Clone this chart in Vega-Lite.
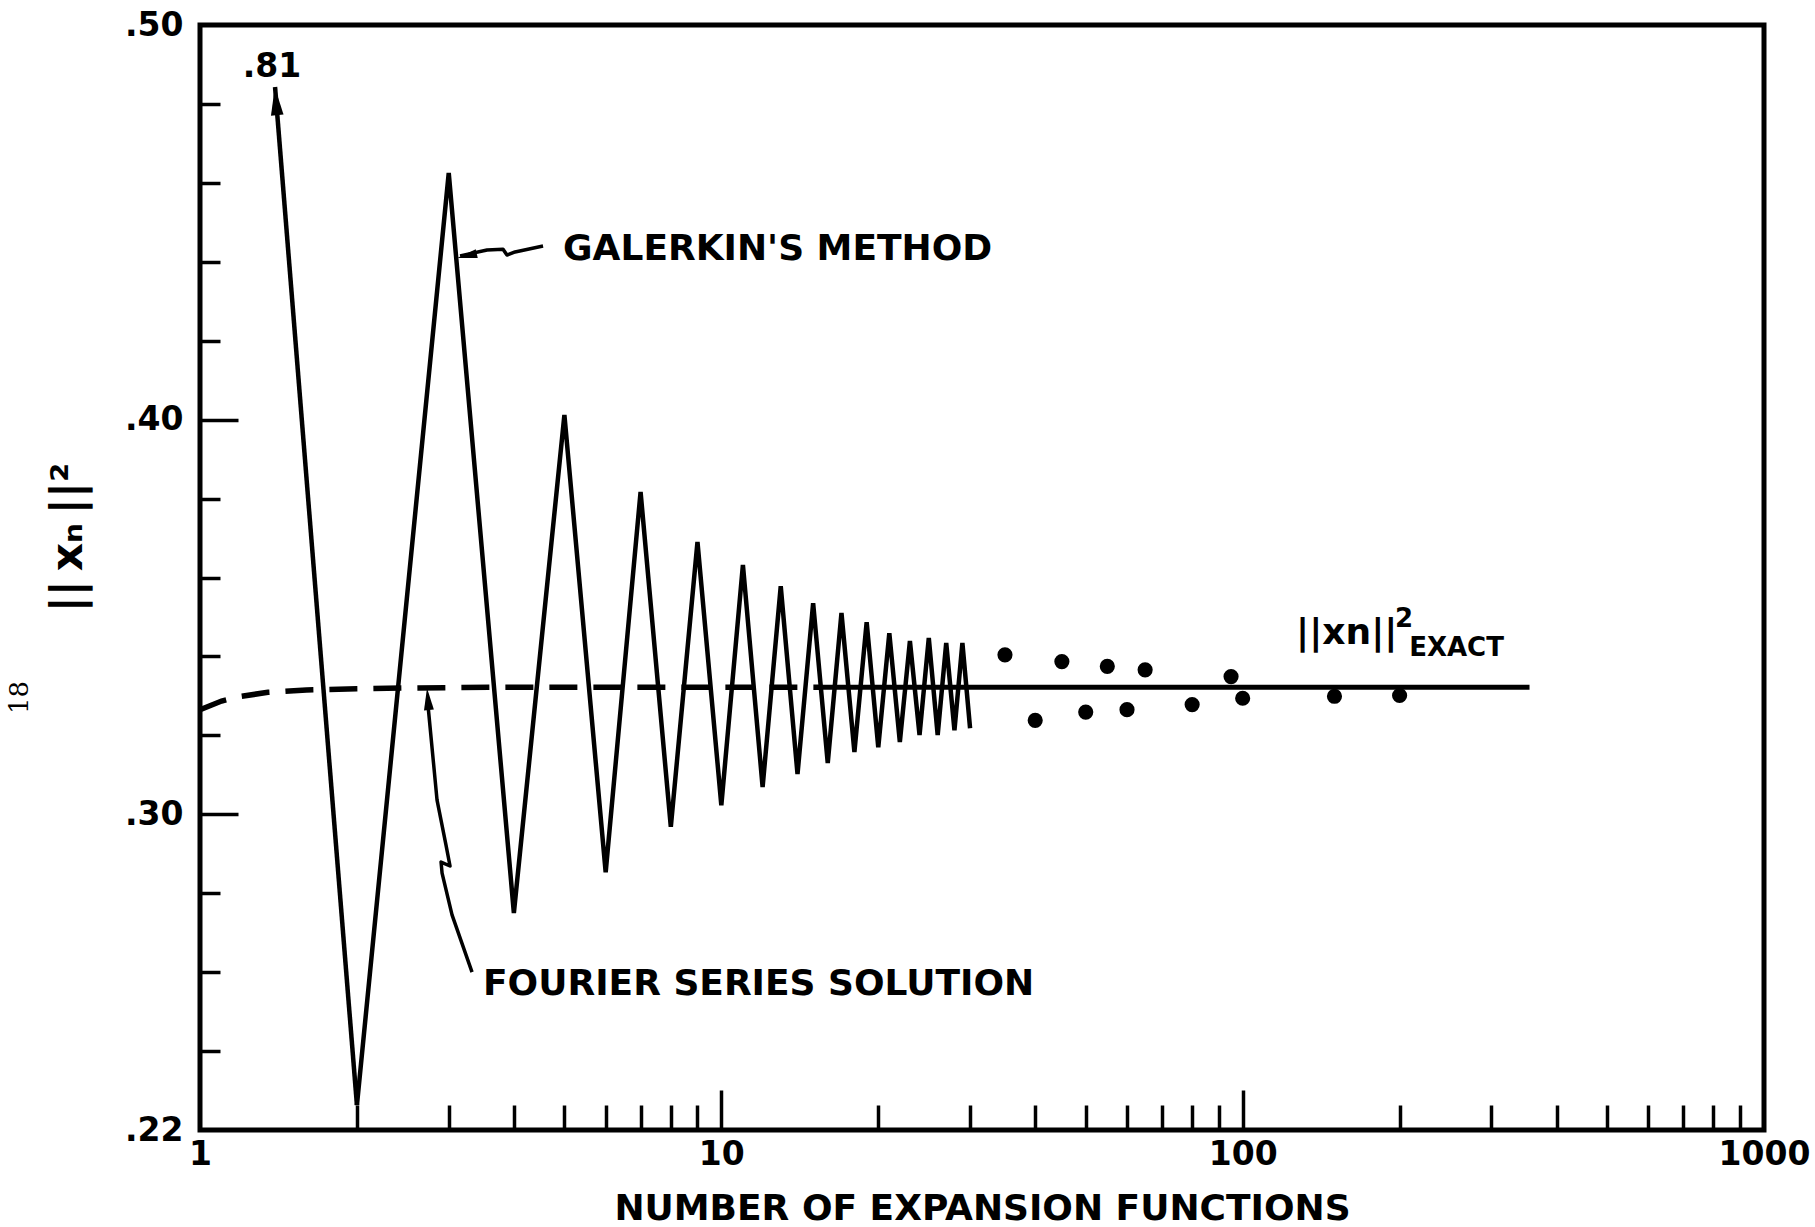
{
  "$schema": "https://vega.github.io/schema/vega-lite/v6.json",
  "width": 1564,
  "height": 1105,
  "autosize": {"type": "none"},
  "padding": {"left": 200, "top": 25, "right": 51, "bottom": 97},
  "background": "white",
  "config": {"view": {"stroke": "black", "strokeWidth": 5}, "font": "DejaVu Sans"},
  "title": {"text": "18", "orient": "left", "anchor": "middle", "font": "DejaVu Serif", "fontSize": 26, "fontWeight": "normal", "color": "black", "offset": 14, "dx": -120},
  "datasets": {
    "galerkin": [
      {"n": 1, "v": 0.81}, {"n": 2, "v": 0.2263}, {"n": 3, "v": 0.4625}, {"n": 4, "v": 0.275},
      {"n": 5, "v": 0.4012}, {"n": 6, "v": 0.2853}, {"n": 7, "v": 0.3817}, {"n": 8, "v": 0.2968},
      {"n": 9, "v": 0.369}, {"n": 10, "v": 0.3023}, {"n": 11, "v": 0.3632}, {"n": 12, "v": 0.3069},
      {"n": 13, "v": 0.3578}, {"n": 14, "v": 0.3102}, {"n": 15, "v": 0.3535}, {"n": 16, "v": 0.313},
      {"n": 17, "v": 0.351}, {"n": 18, "v": 0.3158}, {"n": 19, "v": 0.3487}, {"n": 20, "v": 0.317},
      {"n": 21, "v": 0.3459}, {"n": 22, "v": 0.3183}, {"n": 23, "v": 0.3439}, {"n": 24, "v": 0.3201},
      {"n": 25, "v": 0.3447}, {"n": 26, "v": 0.3201}, {"n": 27, "v": 0.3434}, {"n": 28, "v": 0.3213},
      {"n": 29, "v": 0.3434}, {"n": 30, "v": 0.3218}
    ],
    "dots": [
      {"n": 35, "v": 0.3404}, {"n": 40, "v": 0.3238}, {"n": 45, "v": 0.3387}, {"n": 50, "v": 0.3259},
      {"n": 55, "v": 0.3375}, {"n": 60, "v": 0.3265}, {"n": 65, "v": 0.3366}, {"n": 80, "v": 0.3278},
      {"n": 95, "v": 0.3349}, {"n": 100, "v": 0.3294}, {"n": 150, "v": 0.3299}, {"n": 200, "v": 0.3301}
    ],
    "fourier": [
      {"n": 1, "v": 0.3265}, {"n": 1.1, "v": 0.3287}, {"n": 1.2, "v": 0.3299}, {"n": 1.35, "v": 0.3309},
      {"n": 1.6, "v": 0.3315}, {"n": 2, "v": 0.3318}, {"n": 2.5, "v": 0.332}, {"n": 3, "v": 0.3321},
      {"n": 4, "v": 0.3322}, {"n": 15.4, "v": 0.3322}
    ],
    "exact": [{"n": 15.4, "v": 0.3322}, {"n": 355, "v": 0.3322}],
    "leaders": [
      {"key": "a81", "i": 0, "n": 2, "v": 0.2263}, {"key": "a81", "i": 1, "n": 1.393, "v": 0.4843},
      {"key": "lg", "i": 0, "n": 3.154, "v": 0.4415}, {"key": "lg", "i": 1, "n": 3.553, "v": 0.443},
      {"key": "lg", "i": 2, "n": 3.813, "v": 0.4432}, {"key": "lg", "i": 3, "n": 3.88, "v": 0.4417},
      {"key": "lg", "i": 4, "n": 4.021, "v": 0.4425}, {"key": "lg", "i": 5, "n": 4.55, "v": 0.444},
      {"key": "lf", "i": 0, "n": 2.737, "v": 0.3277}, {"key": "lf", "i": 1, "n": 2.849, "v": 0.3036},
      {"key": "lf", "i": 2, "n": 2.964, "v": 0.2922}, {"key": "lf", "i": 3, "n": 3.017, "v": 0.2869},
      {"key": "lf", "i": 4, "n": 2.9, "v": 0.2879}, {"key": "lf", "i": 5, "n": 2.913, "v": 0.2851},
      {"key": "lf", "i": 6, "n": 3.044, "v": 0.2745}, {"key": "lf", "i": 7, "n": 3.325, "v": 0.26}
    ],
    "heads": [
      {"key": "h81", "n": 1.399, "v": 0.4807},
      {"key": "hg", "n": 3.252, "v": 0.4415},
      {"key": "hf", "n": 2.737, "v": 0.3292}
    ],
    "notes": [
      {"key": "galerkin", "n": 4.97, "v": 0.4405, "text": "GALERKIN'S METHOD"},
      {"key": "fourier", "n": 3.49, "v": 0.2542, "text": "FOURIER SERIES SOLUTION"},
      {"key": "norm", "n": 126.6, "v": 0.3432, "text": "||xn||"},
      {"key": "off", "n": 1.374, "v": 0.4868, "text": ".81"},
      {"key": "sup", "n": 196, "v": 0.3474, "text": "2"},
      {"key": "sub", "n": 208.6, "v": 0.3401, "text": "EXACT"}
    ]
  },
  "layer": [
    {
      "data": {"name": "fourier"},
      "mark": {"type": "line", "color": "black", "strokeWidth": 5.5, "strokeDash": [28, 16]},
      "encoding": {
        "x": {"field": "n", "type": "quantitative", "scale": {"type": "log", "domain": [1, 1000], "nice": false},
          "axis": {"orient": "bottom", "values": [2, 3, 4, 5, 6, 7, 8, 9, 20, 30, 40, 50, 60, 70, 80, 90, 200, 300, 400, 500, 600, 700, 800, 900], "tickSize": -25, "tickWidth": 3.5, "tickColor": "black", "labels": false, "domain": false, "grid": false, "title": null}},
        "y": {"field": "v", "type": "quantitative", "scale": {"domain": [0.22, 0.5], "nice": false, "zero": false},
          "axis": {"orient": "left", "values": [0.24, 0.26, 0.28, 0.32, 0.34, 0.36, 0.38, 0.42, 0.44, 0.46, 0.48], "tickSize": -20, "tickWidth": 3.5, "tickColor": "black", "labels": false, "domain": false, "grid": false, "title": null}}
      }
    },
    {
      "data": {"name": "exact"},
      "mark": {"type": "line", "color": "black", "strokeWidth": 5},
      "encoding": {
        "x": {"field": "n", "type": "quantitative", "scale": {"type": "log", "domain": [1, 1000], "nice": false},
          "axis": {"orient": "bottom", "values": [10, 100], "tickSize": -40, "tickWidth": 3.5, "tickColor": "black", "labels": false, "domain": false, "grid": false, "title": null}},
        "y": {"field": "v", "type": "quantitative", "scale": {"domain": [0.22, 0.5], "nice": false, "zero": false},
          "axis": {"orient": "left", "values": [0.3, 0.4], "tickSize": -38, "tickWidth": 3.5, "tickColor": "black", "labels": false, "domain": false, "grid": false, "title": null}}
      }
    },
    {
      "data": {"name": "galerkin"},
      "transform": [{"filter": "datum.n >= 2"}],
      "mark": {"type": "line", "color": "black", "strokeWidth": 4.5, "strokeJoin": "miter"},
      "encoding": {
        "x": {"field": "n", "type": "quantitative", "scale": {"type": "log", "domain": [1, 1000], "nice": false},
          "axis": {"orient": "bottom", "values": [1, 10, 100, 1000], "format": "d", "ticks": false, "domain": false, "grid": false, "labelFlush": false, "labelOverlap": false,
            "labelFont": "DejaVu Sans", "labelFontWeight": "bold", "labelFontSize": 33, "labelColor": "black", "labelPadding": 8,
            "title": "NUMBER OF EXPANSION FUNCTIONS", "titleFont": "DejaVu Sans", "titleFontWeight": "bold", "titleFontSize": 36, "titleColor": "black", "titlePadding": 20}},
        "y": {"field": "v", "type": "quantitative", "scale": {"domain": [0.22, 0.5], "nice": false, "zero": false},
          "axis": {"orient": "left", "values": [0.22, 0.3, 0.4, 0.5], "format": ".2f", "labelExpr": "replace(datum.label, '0.', '.')", "ticks": false, "domain": false, "grid": false, "labelOverlap": false, "labelFlush": false,
            "labelFont": "DejaVu Sans", "labelFontWeight": "bold", "labelFontSize": 33, "labelColor": "black", "labelPadding": 17,
            "title": "||\u2009xₙ\u2009||²", "titleFont": "DejaVu Sans", "titleFontWeight": "bold", "titleFontSize": 44, "titleColor": "black", "titlePadding": 34, "titleY": 512}}
      }
    },
    {
      "data": {"name": "dots"},
      "mark": {"type": "point", "filled": true, "color": "black", "opacity": 1, "size": 230, "shape": "circle"},
      "encoding": {
        "x": {"field": "n", "type": "quantitative", "scale": {"type": "log", "domain": [1, 1000], "nice": false}, "axis": null},
        "y": {"field": "v", "type": "quantitative", "scale": {"domain": [0.22, 0.5], "nice": false, "zero": false}, "axis": null}
      }
    },
    {
      "data": {"name": "leaders"},
      "transform": [{"filter": "datum.key == 'a81'"}],
      "mark": {"type": "line", "color": "black", "strokeWidth": 4.5},
      "encoding": {
        "x": {"field": "n", "type": "quantitative", "scale": {"type": "log", "domain": [1, 1000], "nice": false}, "axis": null},
        "y": {"field": "v", "type": "quantitative", "scale": {"domain": [0.22, 0.5], "nice": false, "zero": false}, "axis": null},
        "order": {"field": "i"}
      }
    },
    {
      "data": {"name": "leaders"},
      "transform": [{"filter": "datum.key != 'a81'"}],
      "mark": {"type": "line", "color": "black", "strokeWidth": 3.5, "strokeJoin": "round"},
      "encoding": {
        "x": {"field": "n", "type": "quantitative", "scale": {"type": "log", "domain": [1, 1000], "nice": false}, "axis": null},
        "y": {"field": "v", "type": "quantitative", "scale": {"domain": [0.22, 0.5], "nice": false, "zero": false}, "axis": null},
        "detail": {"field": "key"},
        "order": {"field": "i"}
      }
    },
    {
      "data": {"name": "heads"},
      "transform": [{"filter": "datum.key == 'h81'"}],
      "mark": {"type": "point", "filled": true, "color": "black", "opacity": 1, "shape": "M0,-1L0.45,1L-0.45,1Z", "size": 784, "angle": -5},
      "encoding": {
        "x": {"field": "n", "type": "quantitative", "scale": {"type": "log", "domain": [1, 1000], "nice": false}, "axis": null},
        "y": {"field": "v", "type": "quantitative", "scale": {"domain": [0.22, 0.5], "nice": false, "zero": false}, "axis": null}
      }
    },
    {
      "data": {"name": "heads"},
      "transform": [{"filter": "datum.key == 'hg'"}],
      "mark": {"type": "point", "filled": true, "color": "black", "opacity": 1, "shape": "M0,-1L0.45,1L-0.45,1Z", "size": 400, "angle": -103},
      "encoding": {
        "x": {"field": "n", "type": "quantitative", "scale": {"type": "log", "domain": [1, 1000], "nice": false}, "axis": null},
        "y": {"field": "v", "type": "quantitative", "scale": {"domain": [0.22, 0.5], "nice": false, "zero": false}, "axis": null}
      }
    },
    {
      "data": {"name": "heads"},
      "transform": [{"filter": "datum.key == 'hf'"}],
      "mark": {"type": "point", "filled": true, "color": "black", "opacity": 1, "shape": "M0,-1L0.45,1L-0.45,1Z", "size": 484, "angle": -5},
      "encoding": {
        "x": {"field": "n", "type": "quantitative", "scale": {"type": "log", "domain": [1, 1000], "nice": false}, "axis": null},
        "y": {"field": "v", "type": "quantitative", "scale": {"domain": [0.22, 0.5], "nice": false, "zero": false}, "axis": null}
      }
    },
    {
      "data": {"name": "notes"},
      "transform": [{"filter": "indexof(['galerkin','fourier','norm'], datum.key) >= 0"}],
      "mark": {"type": "text", "align": "left", "baseline": "alphabetic", "font": "DejaVu Sans", "fontWeight": "bold", "fontSize": 36, "color": "black"},
      "encoding": {
        "x": {"field": "n", "type": "quantitative", "scale": {"type": "log", "domain": [1, 1000], "nice": false}, "axis": null},
        "y": {"field": "v", "type": "quantitative", "scale": {"domain": [0.22, 0.5], "nice": false, "zero": false}, "axis": null},
        "text": {"field": "text"}
      }
    },
    {
      "data": {"name": "notes"},
      "transform": [{"filter": "datum.key == 'off'"}],
      "mark": {"type": "text", "align": "center", "baseline": "alphabetic", "font": "DejaVu Sans", "fontWeight": "bold", "fontSize": 33, "color": "black"},
      "encoding": {
        "x": {"field": "n", "type": "quantitative", "scale": {"type": "log", "domain": [1, 1000], "nice": false}, "axis": null},
        "y": {"field": "v", "type": "quantitative", "scale": {"domain": [0.22, 0.5], "nice": false, "zero": false}, "axis": null},
        "text": {"field": "text"}
      }
    },
    {
      "data": {"name": "notes"},
      "transform": [{"filter": "datum.key == 'sup' || datum.key == 'sub'"}],
      "mark": {"type": "text", "align": "left", "baseline": "alphabetic", "font": "DejaVu Sans", "fontWeight": "bold", "fontSize": 26, "color": "black"},
      "encoding": {
        "x": {"field": "n", "type": "quantitative", "scale": {"type": "log", "domain": [1, 1000], "nice": false}, "axis": null},
        "y": {"field": "v", "type": "quantitative", "scale": {"domain": [0.22, 0.5], "nice": false, "zero": false}, "axis": null},
        "text": {"field": "text"}
      }
    }
  ],
  "resolve": {"axis": {"x": "independent", "y": "independent"}}
}
